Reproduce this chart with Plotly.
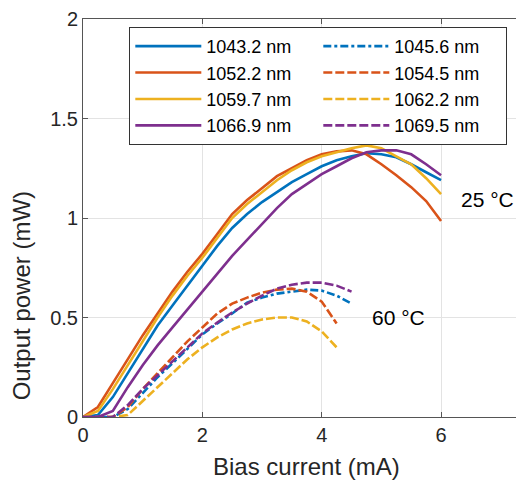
import plotly.graph_objects as go

# ---- data ----
current_25 = [0, 0.25, 0.5, 0.75, 1.0, 1.25, 1.5, 1.75, 2.0, 2.25, 2.5, 2.75, 3.0,
              3.25, 3.5, 3.75, 4.0, 4.25, 4.5, 4.75, 5.0, 5.25, 5.5, 5.75, 6.0]
p_1043_2 = [0, 0.01, 0.10, 0.22, 0.34, 0.46, 0.56, 0.66, 0.76, 0.86, 0.95, 1.02, 1.08,
            1.13, 1.18, 1.22, 1.26, 1.29, 1.31, 1.325, 1.32, 1.305, 1.27, 1.23, 1.19]
p_1052_2 = [0, 0.05, 0.17, 0.29, 0.41, 0.52, 0.63, 0.73, 0.82, 0.92, 1.02, 1.09, 1.15,
            1.21, 1.25, 1.29, 1.32, 1.335, 1.34, 1.32, 1.27, 1.215, 1.155, 1.085, 0.985]
p_1059_7 = [0, 0.03, 0.14, 0.26, 0.38, 0.50, 0.61, 0.71, 0.80, 0.90, 1.00, 1.07, 1.13,
            1.19, 1.24, 1.28, 1.31, 1.33, 1.35, 1.365, 1.35, 1.31, 1.27, 1.20, 1.12]
p_1066_9 = [0, 0, 0.03, 0.15, 0.26, 0.36, 0.45, 0.54, 0.63, 0.72, 0.81, 0.89, 0.97,
            1.05, 1.12, 1.17, 1.22, 1.26, 1.30, 1.33, 1.34, 1.34, 1.32, 1.27, 1.215]

current_60a = [0, 0.25, 0.5, 0.75, 1.0, 1.25, 1.5, 1.75, 2.0, 2.25, 2.5, 2.75, 3.0,
               3.25, 3.5, 3.75, 4.0, 4.25, 4.5]
current_60b = [0, 0.25, 0.5, 0.75, 1.0, 1.25, 1.5, 1.75, 2.0, 2.25, 2.5, 2.75, 3.0,
               3.25, 3.5, 3.75, 4.0, 4.25]
p_1045_6 = [0, 0, 0, 0.04, 0.12, 0.20, 0.27, 0.345, 0.415, 0.47, 0.52, 0.575, 0.60,
            0.62, 0.63, 0.64, 0.635, 0.61, 0.57]
p_1054_5 = [0, 0, 0, 0.05, 0.14, 0.22, 0.30, 0.38, 0.45, 0.52, 0.57, 0.60, 0.625,
            0.64, 0.645, 0.63, 0.58, 0.47]
p_1062_2 = [0, 0, 0, 0.01, 0.08, 0.15, 0.22, 0.29, 0.35, 0.40, 0.44, 0.47, 0.49,
            0.50, 0.50, 0.48, 0.43, 0.35]
p_1069_5 = [0, 0, 0, 0.06, 0.14, 0.21, 0.28, 0.35, 0.42, 0.475, 0.525, 0.57, 0.61,
            0.645, 0.665, 0.675, 0.675, 0.66, 0.63]

x_ticks = [0, 2, 4, 6]
y_ticks = [0, 0.5, 1, 1.5, 2]
y_tick_labels = ["0", "0.5", "1", "1.5", "2"]

BLUE, ORANGE, YELLOW, PURPLE = "#0072BD", "#D95319", "#EDB120", "#7E2F8E"
FONT = "Liberation Sans, Arial, Helvetica, sans-serif"

series = [
    ("1043.2 nm", current_25, p_1043_2, BLUE, "solid"),
    ("1045.6 nm", current_60a, p_1045_6, BLUE, "8px,3px,3px,3px"),
    ("1052.2 nm", current_25, p_1052_2, ORANGE, "solid"),
    ("1054.5 nm", current_60b, p_1054_5, ORANGE, "9px,3px"),
    ("1059.7 nm", current_25, p_1059_7, YELLOW, "solid"),
    ("1062.2 nm", current_60b, p_1062_2, YELLOW, "9px,3px"),
    ("1066.9 nm", current_25, p_1066_9, PURPLE, "solid"),
    ("1069.5 nm", current_60a, p_1069_5, PURPLE, "9px,3px"),
]

fig = go.Figure()
for name, xs, ys, col, dash in series:
    fig.add_trace(go.Scatter(x=xs, y=ys, mode="lines", name=name,
                             line=dict(color=col, width=2.6, dash=dash)))

fig.add_annotation(x=6.78, y=1.095, text="25 °C", showarrow=False,
                   font=dict(size=21, color="#000", family=FONT))
fig.add_annotation(x=5.28, y=0.5, text="60 °C", showarrow=False,
                   font=dict(size=21, color="#000", family=FONT))
fig.add_annotation(xref="paper", yref="paper", x=0.507, y=-0.125,
                   text="Bias current (mA)", showarrow=False, yanchor="middle",
                   font=dict(size=24, color="#262626", family=FONT))
fig.add_annotation(xref="paper", yref="paper", x=-0.139, y=0.305,
                   text="Output power (mW)", showarrow=False, textangle=-90,
                   xanchor="center", yanchor="middle",
                   font=dict(size=24, color="#262626", family=FONT))

# page body has an 8px margin; size and margins account for it
fig.update_layout(
    width=516, height=474,
    margin=dict(l=75, r=0, t=9, b=65),
    paper_bgcolor="white", plot_bgcolor="white",
    font=dict(family=FONT, size=20, color="#262626"),
    showlegend=True,
    legend=dict(orientation="h", x=0.105, y=0.98, xanchor="left", yanchor="top",
                bgcolor="white", bordercolor="#333", borderwidth=1,
                font=dict(size=18, color="#000", family=FONT),
                itemwidth=66, entrywidth=107, tracegroupgap=0),
    xaxis=dict(range=[0, 7.39], tickvals=x_ticks, ticktext=[str(v) for v in x_ticks],
               showgrid=True, gridcolor="#e3e3e3", gridwidth=1,
               showline=True, linecolor="#555", linewidth=1, mirror="ticks",
               ticks="inside", ticklen=5, tickcolor="#555", zeroline=False,
               ticklabeloverflow="allow",
               tickfont=dict(size=20, color="#262626")),
    yaxis=dict(range=[0, 2], tickvals=y_ticks, ticktext=y_tick_labels,
               showgrid=True, gridcolor="#e3e3e3", gridwidth=1,
               showline=True, linecolor="#555", linewidth=1, mirror=False,
               ticks="inside", ticklen=5, tickcolor="#555", zeroline=False,
               ticklabeloverflow="allow",
               tickfont=dict(size=20, color="#262626")),
)

fig.write_html("out.html")
